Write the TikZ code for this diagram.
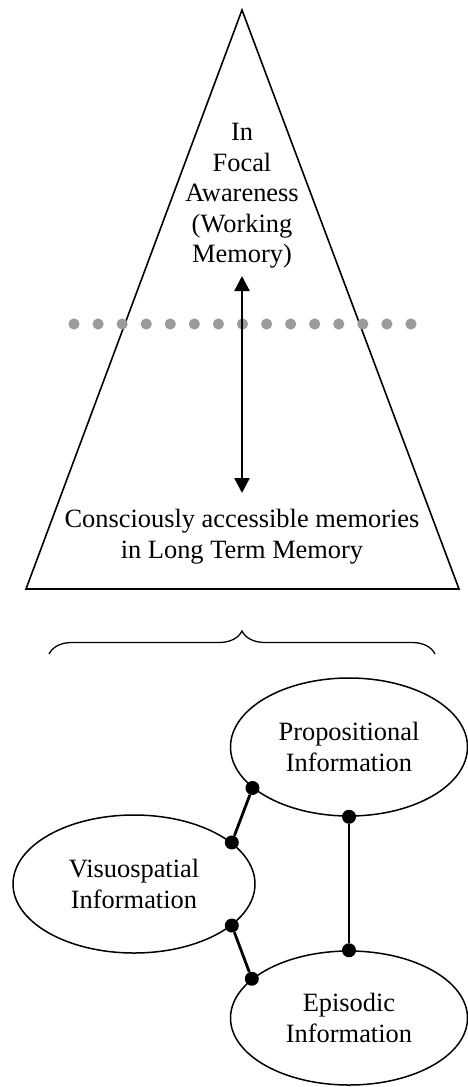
\documentclass[tikz,border=0pt]{standalone}
\usepackage{fontspec}
\setmainfont{Liberation Serif}
\usetikzlibrary{arrows.meta,shapes.geometric,decorations.pathreplacing}
\definecolor{dotgray}{RGB}{155,155,155}
\begin{document}
\begin{tikzpicture}[x=1pt,y=-1pt,
  lbl/.style={font=\fontsize{26.4}{30.5}\selectfont, align=center, inner sep=0pt},
  infobox/.style={ellipse, draw, line width=1.5pt, minimum width=237pt, minimum height=138pt, inner sep=0pt, align=center, font=\fontsize{26.4}{31}\selectfont},
  joint/.style={circle, fill=black, inner sep=0pt, minimum size=14pt},
  link/.style={line width=2.8pt},
  edge/.style={line width=1.6pt, line join=miter},
  grayspot/.style={fill=dotgray},
  tip/.style={line width=2.4pt, {Triangle[length=15pt,width=15pt]}-{Triangle[length=15pt,width=15pt]}},
  bracket/.style={line width=1.3pt, decorate, decoration={brace, amplitude=23pt}}]
\useasboundingbox (0,0) rectangle (468,1087);
% pyramid
\coordinate (apex) at (242,10);
\coordinate (bl) at (26,589);
\coordinate (br) at (459,589);
\draw[edge] (apex) -- (bl) -- (br) -- cycle;
% dotted divider
\foreach \i in {0,...,14} \fill[grayspot] (74+\i*24.07,324) circle[radius=5.6pt];
% texts
\node[lbl] (focal) at (242,196) {In\\Focal\\Awareness\\(Working\\Memory)};
\node[lbl] (ltm) at (242,536.5) {Consciously accessible memories\\in Long Term Memory};
% arrow
\coordinate (atop) at (242,276);
\coordinate (abot) at (242,493);
\draw[tip] (atop) -- (abot);
% brace
\coordinate (bl2) at (49,654);
\coordinate (br2) at (435,654);
\draw[bracket] (bl2) -- (br2);
% ellipses
\node[infobox] (prop) at (349,747) {Propositional\\Information};
\node[infobox, minimum width=242pt] (vis) at (134,884) {Visuospatial\\Information};
\node[infobox, minimum height=134pt] (epi) at (349,1018) {Episodic\\Information};
% joints
\node[joint] (j1) at (prop.203) {};
\node[joint] (j2) at (vis.23) {};
\node[joint] (j3) at (vis.337) {};
\node[joint] (j4) at (epi.158.7) {};
\node[joint] (j5) at (prop.south) {};
\node[joint] (j6) at (epi.north) {};
\draw[link] (j1) -- (j2);
\draw[link] (j3) -- (j4);
\draw[link] (j5) -- (j6);
\end{tikzpicture}
\end{document}
